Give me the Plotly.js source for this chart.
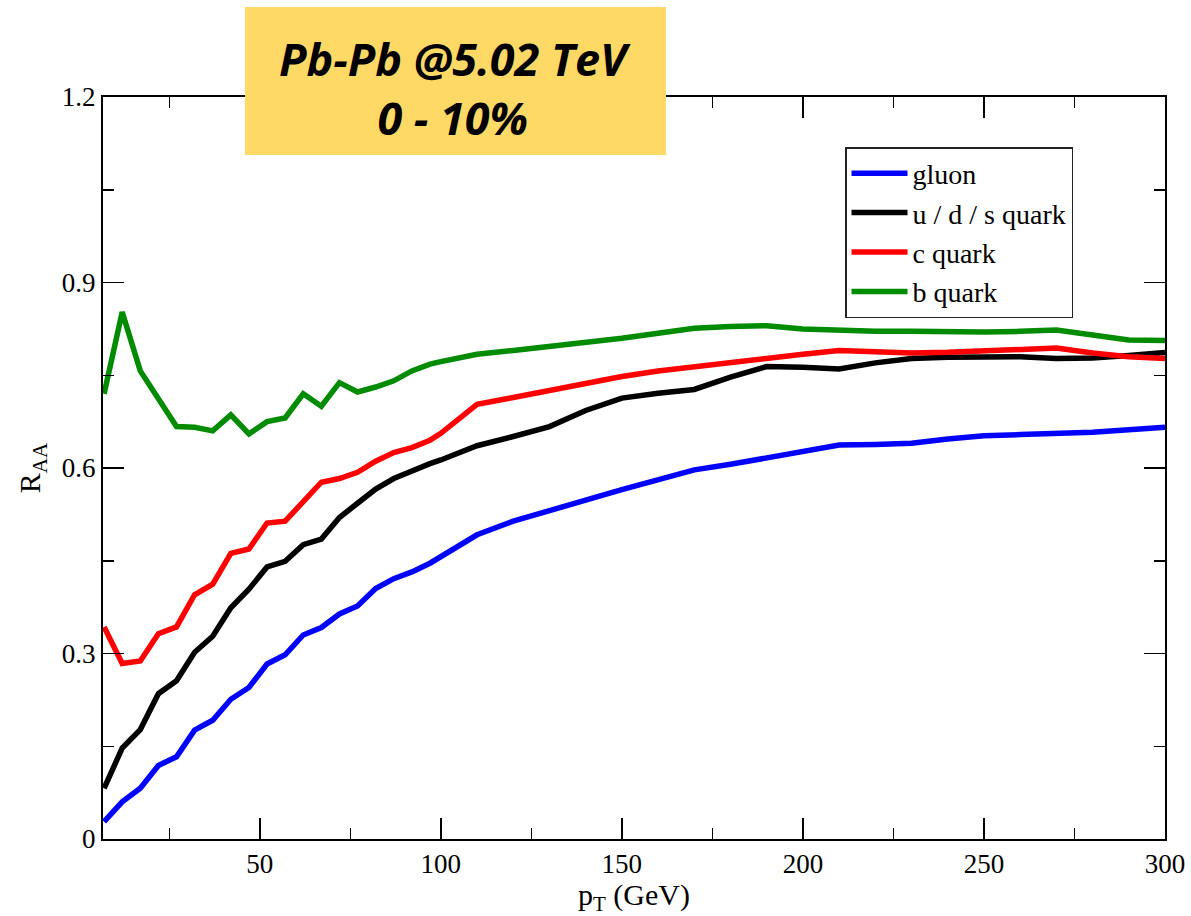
<!DOCTYPE html>
<html><head><meta charset="utf-8">
<script src="https://cdn.plot.ly/plotly-3.0.1.min.js"></script>
<style>html,body{margin:0;padding:0;background:#fff}#chart{width:1191px;height:916px}</style>
</head><body><div id="chart"></div>
<script>
const pT = [7,12,17,22,27,32,37,42,47,52,57,62,67,72,77,82,87,92,97,
            100,110,120,130,140,150,160,170,180,190,200,210,220,230,240,250,260,270,280,290,300];
const gluon = [0.028,0.060,0.082,0.119,0.133,0.176,0.192,0.226,0.245,0.283,0.298,0.330,0.342,0.364,0.377,0.405,0.421,0.432,0.446,
               0.457,0.492,0.514,0.532,0.548,0.565,0.582,0.597,0.606,0.616,0.627,0.637,0.638,0.640,0.647,0.652,0.654,0.655,0.658,0.662,0.666];
const udsQuark = [0.082,0.147,0.177,0.235,0.256,0.302,0.328,0.374,0.404,0.440,0.449,0.476,0.485,0.520,0.543,0.566,0.583,0.596,0.607,
                  0.613,0.636,0.651,0.667,0.693,0.713,0.721,0.727,0.747,0.764,0.763,0.760,0.770,0.777,0.779,0.780,0.780,0.777,0.778,0.782,0.787];
const cQuark = [0.343,0.284,0.288,0.332,0.343,0.395,0.412,0.462,0.469,0.511,0.514,0.546,0.577,0.583,0.593,0.611,0.625,0.633,0.645,
                0.656,0.703,0.714,0.726,0.737,0.748,0.757,0.764,0.772,0.779,0.784,0.790,0.787,0.786,0.787,0.789,0.792,0.794,0.786,0.780,0.777];
const bQuark = [0.720,0.852,0.757,0.710,0.667,0.666,0.660,0.686,0.655,0.675,0.681,0.720,0.700,0.738,0.723,0.731,0.741,0.757,0.768,
                0.772,0.784,0.790,0.796,0.802,0.810,0.818,0.826,0.829,0.830,0.825,0.822,0.821,0.821,0.820,0.820,0.821,0.823,0.815,0.807,0.806];
const seriesNames = ["gluon", "u / d / s quark", "c quark", "b quark"];
const seriesColors = ["#0000ff", "#000000", "#ff0000", "#008b00"];
const seriesData = [gluon, udsQuark, cQuark, bQuark];
const titleLines = ["Pb-Pb @5.02 TeV", "0 - 10%"];

const serif = "Liberation Serif, Times New Roman, serif";
const traces = seriesData.map((ys, i) => ({
  type: "scatter", mode: "lines", x: pT, y: ys, name: seriesNames[i],
  line: {color: seriesColors[i], width: 5.5}
}));

const axisCommon = {
  showline: true, linecolor: "#000", linewidth: 2, mirror: "ticks",
  ticks: "inside", ticklen: 21, tickwidth: 1.5, tickcolor: "#000",
  showgrid: false, zeroline: false,
  tickfont: {family: serif, size: 27, color: "#000"}
};

const layout = {
  width: 1191, height: 916,
  margin: {l: 103, r: 26, t: 97, b: 77},
  paper_bgcolor: "#fff", plot_bgcolor: "#fff",
  showlegend: true,
  legend: {
    x: 0.6987, y: 0.9326, xanchor: "left", yanchor: "top",
    bgcolor: "#fff", bordercolor: "#222", borderwidth: 1.5,
    font: {family: serif, size: 28, color: "#000"},
    itemwidth: 56
  },
  xaxis: Object.assign({}, axisCommon, {
    range: [6.7, 300], tick0: 0, dtick: 50,
    minor: {dtick: 25, ticklen: 11, tickwidth: 1.5, tickcolor: "#000", ticks: "inside"},
    title: {text: "p<sub>T</sub> (GeV)", font: {family: serif, size: 30, color: "#000"}, standoff: 8}
  }),
  yaxis: Object.assign({}, axisCommon, {
    range: [0, 1.2], tick0: 0, dtick: 0.3,
    minor: {dtick: 0.15, ticklen: 11, tickwidth: 1.5, tickcolor: "#000", ticks: "inside"},
    title: {text: "R<sub>AA</sub>", font: {family: serif, size: 30, color: "#000"}, standoff: 12}
  }),
  shapes: [{
    type: "rect", xref: "paper", yref: "paper", layer: "above",
    x0: 0.1337, x1: 0.5301, y0: 0.9218, y1: 1.1213,
    fillcolor: "#ffd966", line: {width: 0}
  }],
  annotations: [{
    xref: "paper", yref: "paper", x: 0.3319, y: 1.0128,
    xanchor: "center", yanchor: "middle", showarrow: false, align: "center",
    text: "<b><i>" + titleLines.join("<br>") + "</i></b>",
    font: {family: "Open Sans, Lato, sans-serif", size: 45, color: "#000"}
  }]
};

Plotly.newPlot("chart", traces, layout, {displayModeBar: false, staticPlot: true});
</script>
</body></html>
